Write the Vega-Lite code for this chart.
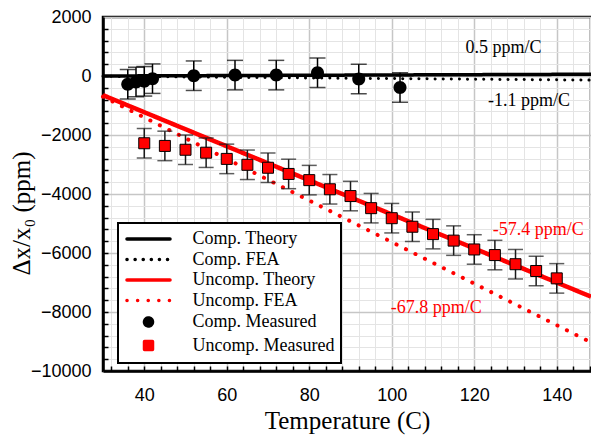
{
  "$schema": "https://vega.github.io/schema/vega-lite/v6.json",
  "width": 488,
  "height": 354,
  "autosize": {"type": "none"},
  "padding": {"left": 103, "top": 17, "right": 0, "bottom": 64},
  "background": "white",
  "config": {"view": {"stroke": "black", "strokeWidth": 2.5}, "axis": {"labelColor": "black", "titleColor": "black"}},
  "datasets": {
    "curves": [
      {"series": "Comp. Theory", "T": 30, "v": 0},
      {"series": "Comp. Theory", "T": 148.3, "v": 60},
      {"series": "Comp. FEA", "T": 30, "v": -10},
      {"series": "Comp. FEA", "T": 148.3, "v": -140},
      {"series": "Uncomp. Theory", "T": 30, "v": -650},
      {"series": "Uncomp. Theory", "T": 148.3, "v": -7480},
      {"series": "Uncomp. FEA", "T": 30, "v": -700},
      {"series": "Uncomp. FEA", "T": 148.3, "v": -9030}
    ],
    "comp": [
      {"series": "Comp. Measured", "T": 36, "v": -280, "err": 500},
      {"series": "Comp. Measured", "T": 38, "v": -200, "err": 500},
      {"series": "Comp. Measured", "T": 40, "v": -180, "err": 500},
      {"series": "Comp. Measured", "T": 42, "v": -90, "err": 500},
      {"series": "Comp. Measured", "T": 52, "v": 10, "err": 500},
      {"series": "Comp. Measured", "T": 62, "v": 30, "err": 500},
      {"series": "Comp. Measured", "T": 72, "v": 30, "err": 500},
      {"series": "Comp. Measured", "T": 82, "v": 110, "err": 500},
      {"series": "Comp. Measured", "T": 92, "v": -100, "err": 500},
      {"series": "Comp. Measured", "T": 102, "v": -390, "err": 500}
    ],
    "uncomp": [
      {"series": "Uncomp. Measured", "T": 40, "v": -2280, "err": 500},
      {"series": "Uncomp. Measured", "T": 45, "v": -2370, "err": 500},
      {"series": "Uncomp. Measured", "T": 50, "v": -2500, "err": 500},
      {"series": "Uncomp. Measured", "T": 55, "v": -2600, "err": 500},
      {"series": "Uncomp. Measured", "T": 60, "v": -2810, "err": 500},
      {"series": "Uncomp. Measured", "T": 65, "v": -3010, "err": 500},
      {"series": "Uncomp. Measured", "T": 70, "v": -3110, "err": 500},
      {"series": "Uncomp. Measured", "T": 75, "v": -3320, "err": 500},
      {"series": "Uncomp. Measured", "T": 80, "v": -3530, "err": 500},
      {"series": "Uncomp. Measured", "T": 85, "v": -3840, "err": 500},
      {"series": "Uncomp. Measured", "T": 90, "v": -4070, "err": 500},
      {"series": "Uncomp. Measured", "T": 95, "v": -4480, "err": 500},
      {"series": "Uncomp. Measured", "T": 100, "v": -4820, "err": 500},
      {"series": "Uncomp. Measured", "T": 105, "v": -5110, "err": 500},
      {"series": "Uncomp. Measured", "T": 110, "v": -5360, "err": 500},
      {"series": "Uncomp. Measured", "T": 115, "v": -5580, "err": 500},
      {"series": "Uncomp. Measured", "T": 120, "v": -5880, "err": 500},
      {"series": "Uncomp. Measured", "T": 125, "v": -6070, "err": 500},
      {"series": "Uncomp. Measured", "T": 130, "v": -6380, "err": 500},
      {"series": "Uncomp. Measured", "T": 135, "v": -6610, "err": 500},
      {"series": "Uncomp. Measured", "T": 140, "v": -6860, "err": 500}
    ],
    "notes": [
      {"series": "Comp. Theory", "T": 127.1, "v": 790, "label": "0.5 ppm/C"},
      {"series": "Comp. FEA", "T": 133.3, "v": -1017, "label": "-1.1 ppm/C"},
      {"series": "Uncomp. Theory", "T": 135.5, "v": -5390, "label": "-57.4 ppm/C"},
      {"series": "Uncomp. FEA", "T": 110.8, "v": -8045, "label": "-67.8 ppm/C"}
    ]
  },
  "resolve": {"axis": {"x": "independent", "y": "independent"}},
  "layer": [
    {
      "data": {"name": "curves"},
      "transform": [{"filter": "datum.series === 'Comp. Theory'"}],
      "mark": {"type": "line", "strokeWidth": 3.5},
      "encoding": {
        "x": {"field": "T", "type": "quantitative", "scale": {"domain": [30, 148.3], "nice": false, "zero": false},
          "axis": {"orient": "bottom", "values": [32,36,40,44,48,52,56,60,64,68,72,76,80,84,88,92,96,100,104,108,112,116,120,124,128,132,136,140,144,148],
            "grid": true, "gridColor": "#e4e4e4", "gridWidth": 1, "ticks": true, "tickSize": -5, "tickColor": "black", "tickWidth": 1.5,
            "labels": false, "domain": false, "title": null}},
        "y": {"field": "v", "type": "quantitative", "scale": {"domain": [-10000, 2000], "nice": false, "zero": false},
          "axis": {"orient": "left", "values": [-9600,-9200,-8800,-8400,-8000,-7600,-7200,-6800,-6400,-6000,-5600,-5200,-4800,-4400,-4000,-3600,-3200,-2800,-2400,-2000,-1600,-1200,-800,-400,0,400,800,1200,1600],
            "grid": true, "gridColor": "#e4e4e4", "gridWidth": 1, "ticks": true, "tickSize": -5, "tickColor": "black", "tickWidth": 1.5,
            "labels": false, "domain": false, "title": null}},
        "color": {"field": "series", "type": "nominal",
          "scale": {"domain": ["Comp. Theory", "Comp. FEA", "Uncomp. Theory", "Uncomp. FEA", "Comp. Measured", "Uncomp. Measured"],
            "range": ["black", "black", "red", "red", "black", "red"]},
          "legend": {
            "orient": "none", "legendX": 15, "legendY": 206, "title": null,
            "padding": 6, "fillColor": "white", "strokeColor": "black",
            "symbolSize": 256, "symbolStrokeWidth": 3.5, "symbolOffset": 14.5, "labelOffset": 34,
            "rowPadding": 1.5, "labelLimit": 400,
            "labelFont": "Liberation Serif", "labelFontSize": 18, "labelColor": "black",
            "encode": {
              "legend": {"update": {"strokeWidth": {"value": 2}}},
              "symbols": {"update": {
                "fill": {"scale": "color", "field": "value"},
                "stroke": {"scale": "color", "field": "value"},
                "strokeCap": {"value": "round"},
                "opacity": {"value": 1}, "fillOpacity": {"value": 1}, "strokeOpacity": {"value": 1}
              }}
            }
          }},
        "strokeDash": {"field": "series", "type": "nominal",
          "scale": {"domain": ["Comp. Theory", "Comp. FEA", "Uncomp. Theory", "Uncomp. FEA", "Comp. Measured", "Uncomp. Measured"],
            "range": [[1, 0], [0.1, 8], [1, 0], [0.1, 10.5], [1, 0], [1, 0]]}}
      }
    },
    {
      "data": {"name": "curves"},
      "transform": [{"filter": "datum.series === 'Comp. FEA'"}],
      "mark": {"type": "line", "strokeWidth": 3, "strokeCap": "round"},
      "encoding": {
        "x": {"field": "T", "type": "quantitative", "scale": {"domain": [30, 148.3], "nice": false, "zero": false},
          "axis": {"orient": "bottom", "values": [40, 60, 80, 100, 120, 140], "grid": true, "gridColor": "#c6c6c6", "gridWidth": 1.5,
            "ticks": false, "domain": true, "domainColor": "black", "domainWidth": 2.5,
            "labelFont": "Liberation Sans", "labelFontSize": 18, "labelPadding": 15,
            "title": "Temperature (C)", "titleFont": "Liberation Serif", "titleFontSize": 25, "titleFontWeight": "normal",
            "titleBaseline": "alphabetic", "titleY": 57}},
        "y": {"field": "v", "type": "quantitative", "scale": {"domain": [-10000, 2000], "nice": false, "zero": false},
          "axis": {"orient": "left", "values": [-10000, -8000, -6000, -4000, -2000, 0, 2000], "format": "d", "grid": true, "gridColor": "#c6c6c6", "gridWidth": 1.5,
            "ticks": false, "domain": true, "domainColor": "black", "domainWidth": 2.5,
            "labelFont": "Liberation Sans", "labelFontSize": 18, "labelPadding": 12,
            "title": "Δx/x₀ (ppm)", "titleFont": "Liberation Serif", "titleFontSize": 25, "titleFontWeight": "normal",
            "titleBaseline": "middle", "titleX": -82, "titleY": 196}},
        "color": {"field": "series", "type": "nominal"},
        "strokeDash": {"field": "series", "type": "nominal"}
      }
    },
    {
      "data": {"name": "curves"},
      "transform": [{"filter": "datum.series === 'Uncomp. Theory'"}],
      "mark": {"type": "line", "strokeWidth": 4.5},
      "encoding": {
        "x": {"field": "T", "type": "quantitative", "axis": null},
        "y": {"field": "v", "type": "quantitative", "axis": null},
        "color": {"field": "series", "type": "nominal"},
        "strokeDash": {"field": "series", "type": "nominal"}
      }
    },
    {
      "data": {"name": "curves"},
      "transform": [{"filter": "datum.series === 'Uncomp. FEA'"}],
      "mark": {"type": "line", "strokeWidth": 4, "strokeCap": "round"},
      "encoding": {
        "x": {"field": "T", "type": "quantitative", "axis": null},
        "y": {"field": "v", "type": "quantitative", "axis": null},
        "color": {"field": "series", "type": "nominal"},
        "strokeDash": {"field": "series", "type": "nominal"}
      }
    },
    {
      "data": {"name": "comp"},
      "mark": {"type": "errorbar", "ticks": true, "size": 16, "thickness": 1.5, "color": "black"},
      "encoding": {
        "x": {"field": "T", "type": "quantitative", "axis": null},
        "y": {"field": "v", "type": "quantitative", "axis": null},
        "yError": {"field": "err"}
      }
    },
    {
      "data": {"name": "uncomp"},
      "mark": {"type": "errorbar", "ticks": true, "size": 15, "thickness": 1.5, "color": "#1a1a1a"},
      "encoding": {
        "x": {"field": "T", "type": "quantitative", "axis": null},
        "y": {"field": "v", "type": "quantitative", "axis": null},
        "yError": {"field": "err"}
      }
    },
    {
      "data": {"name": "comp"},
      "mark": {"type": "point", "filled": true, "size": 676, "opacity": 1},
      "encoding": {
        "x": {"field": "T", "type": "quantitative", "axis": null},
        "y": {"field": "v", "type": "quantitative", "axis": null},
        "color": {"field": "series", "type": "nominal"},
        "shape": {"field": "series", "type": "nominal",
          "scale": {"domain": ["Comp. Theory", "Comp. FEA", "Uncomp. Theory", "Uncomp. FEA", "Comp. Measured", "Uncomp. Measured"],
            "range": ["M-2.69,0H2.69", "M-2.69,0H2.69", "M-2.69,0H2.69", "M-2.69,0H2.69",
              "M0.5,0A0.5,0.5 0 1,1 -0.5,0A0.5,0.5 0 1,1 0.5,0Z", "M-0.5,-0.5H0.5V0.5H-0.5Z"]}}
      }
    },
    {
      "data": {"name": "uncomp"},
      "mark": {"type": "point", "filled": true, "size": 484, "opacity": 1, "stroke": "black", "strokeWidth": 1},
      "encoding": {
        "x": {"field": "T", "type": "quantitative", "axis": null},
        "y": {"field": "v", "type": "quantitative", "axis": null},
        "color": {"field": "series", "type": "nominal"},
        "shape": {"field": "series", "type": "nominal"}
      }
    },
    {
      "data": {"name": "notes"},
      "mark": {"type": "text", "font": "Liberation Serif", "fontSize": 18, "align": "center", "baseline": "alphabetic"},
      "encoding": {
        "x": {"field": "T", "type": "quantitative", "axis": null},
        "y": {"field": "v", "type": "quantitative", "axis": null},
        "text": {"field": "label"},
        "color": {"field": "series", "type": "nominal"}
      }
    }
  ]
}
